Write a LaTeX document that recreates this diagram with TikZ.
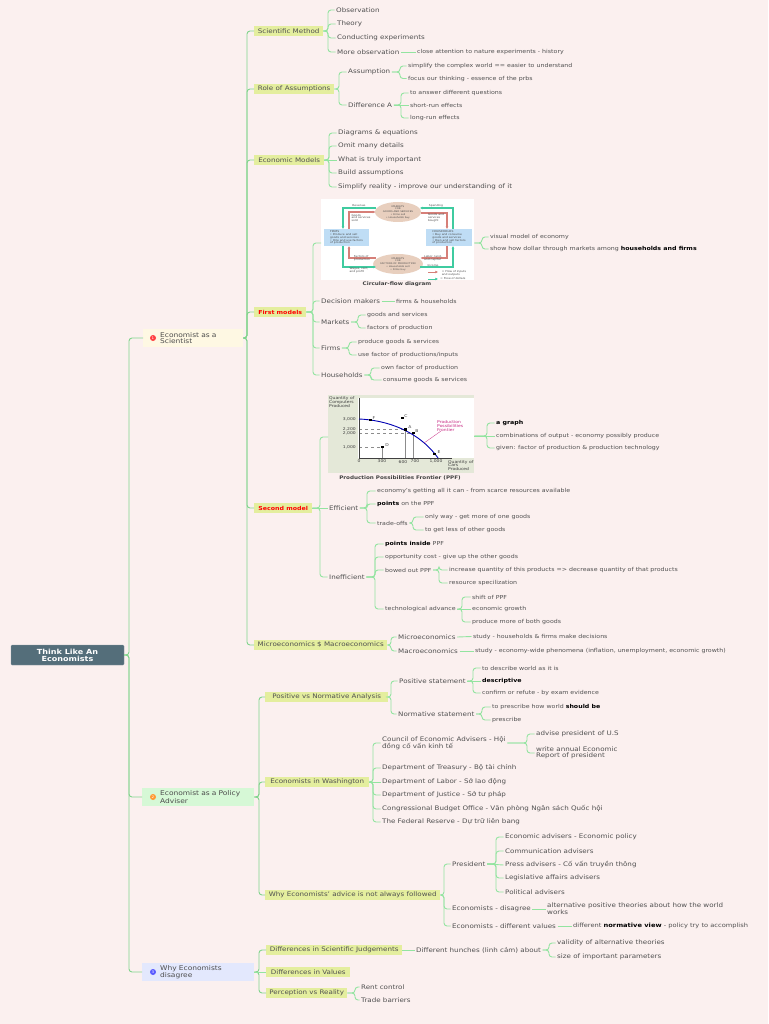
\documentclass[tikz,border=0pt]{standalone}
\usepackage{fontspec}
\setmainfont[FakeStretch=1.15]{DejaVu Sans}
\usetikzlibrary{arrows.meta,shapes.geometric}
\definecolor{bgc}{HTML}{FBF0EF}
\definecolor{linec}{HTML}{93E4A0}
\definecolor{trunkc}{HTML}{80D48C}
\definecolor{boxc}{HTML}{E4EE9E}
\definecolor{inkc}{HTML}{505050}
\definecolor{rootc}{HTML}{546E7A}
\definecolor{flowgreen}{HTML}{3FCBA0}
\definecolor{flowred}{HTML}{D67F78}
\definecolor{ellc}{HTML}{E8CFBE}
\definecolor{firmc}{HTML}{BFDDF5}
\definecolor{ppfb}{HTML}{E4E8D8}
\definecolor{topa}{HTML}{FEF8E3}
\definecolor{topb}{HTML}{D6F8D6}
\definecolor{topc}{HTML}{E3E8FD}
\tikzset{
  conn/.style={draw=linec,line width=0.9pt,rounded corners=3pt},
  trunk/.style={draw=trunkc,line width=0.9pt,rounded corners=3pt},
  txtbig/.style={anchor=west,inner xsep=1.5pt,inner ysep=0.5pt,xshift=-1.5pt,text=inkc,align=left,font=\fontsize{6.2}{6}\selectfont},
  txtsm/.style={txtbig,font=\fontsize{5.45}{6}\selectfont},
  txtmd/.style={txtbig,font=\fontsize{5.8}{6}\selectfont},
  boxn/.style={anchor=west,fill=boxc,inner xsep=0pt,inner ysep=0pt,minimum height=10pt,text=inkc,align=center,font=\fontsize{6.2}{6}\selectfont},
  boxred/.style={font=\bfseries\fontsize{5.45}{6}\selectfont,text=red},
  topic/.style={anchor=west,inner sep=0pt,minimum height=18pt,text=black!70,align=left,font=\fontsize{6.5}{6}\selectfont},
  badge/.style={circle,inner sep=0pt,minimum size=6pt,text=white,font=\fontsize{3.5}{4}\selectfont},
  capt/.style={text=black!75,font=\bfseries\fontsize{4.9}{5}\selectfont,inner sep=0pt},
  tiny/.style={inner sep=0pt,text=black!70,align=left,font=\fontsize{2.6}{2.9}\selectfont},
  ppft/.style={inner sep=0pt,text=black!75,align=left,font=\fontsize{3.9}{3.9}\selectfont},
  flowa/.style={line width=1.05pt,-{Latex[length=2.6pt,width=2.8pt]}},
  gflow/.style={flowa,draw=flowgreen,color=flowgreen},
  rflow/.style={flowa,draw=flowred,color=flowred},
  pt/.style={fill=black,inner sep=0pt,minimum width=3pt,minimum height=2.4pt},
  guide/.style={draw=black!45,line width=0.25pt}
}
\newcommand{\Tb}[4]{\node[txtbig] (#1) at (#2,#3) {#4};}
\newcommand{\Ts}[4]{\node[txtsm] (#1) at (#2,#3) {#4};}
\newcommand{\Tm}[4]{\node[txtmd] (#1) at (#2,#3) {#4};}
\newcommand{\Bx}[5]{\node[boxn,minimum width=#4pt] (#1) at (#2,#3) {#5};}
\newcommand{\lk}[3]{\draw[conn] (#1.east) -- (#3,0 |- #1.east) -- (#3,0 |- #2.west) -- (#2.west);}
\newcommand{\tk}[3]{\draw[trunk] (#1.east) -- (#3,0 |- #1.east) -- (#3,0 |- #2.west) -- (#2.west);}
\newcommand{\st}[2]{\draw[conn] (#1.east) -- (#2.west);}
\newcommand{\bd}[1]{{\bfseries\color{black}#1}}
\begin{document}
\begin{tikzpicture}[x=1pt,y=-1pt]
\useasboundingbox[fill=bgc] (0,0) rectangle (768,1024);
% root and topics
\node[fill=rootc,draw=rootc!70!white,line width=0.3pt,rounded corners=1pt,minimum width=113pt,minimum height=20pt,inner sep=0pt,text=white,align=center,font=\bfseries\fontsize{7}{7}\selectfont] (root) at (67.5,655) {Think Like An\\Economists};
\node[topic,fill=topa,minimum width=100pt,text width=100pt] (A) at (143,338) {\hspace*{17pt}Economist as a\\\hspace*{17pt}Scientist};
\node[topic,fill=topb,minimum width=112pt,text width=112pt] (B) at (142,797) {\hspace*{18pt}Economist as a Policy\\\hspace*{18pt}Adviser};
\node[topic,fill=topc,minimum width=112pt,text width=112pt] (C) at (142,972) {\hspace*{18pt}Why Economists\\\hspace*{18pt}disagree};
\node[badge,fill=red!75!white] (ba) at (153,338) {1};
\node[badge,fill=orange!80!white] (bb) at (153,797) {2};
\node[badge,fill=blue!65!white] (bc) at (153,972) {3};
\tk{root}{A}{129}\tk{root}{B}{129}\tk{root}{C}{129}
% branch boxes
\Bx{sm}{254}{31}{69}{Scientific Method}
\Bx{ra}{254}{89}{80}{Role of Assumptions}
\Bx{em}{254}{160}{70}{Economic Models}
\node[boxn,boxred,minimum width=52pt] (fm) at (254,312) {First models};
\node[boxn,boxred,minimum width=58pt] (sd) at (254,508) {Second model};
\Bx{mm}{254}{645}{133}{Microeconomics \$ Macroeconomics}
\foreach \c in {sm,ra,em,fm,sd,mm}{\tk{A}{\c}{247}}
% scientific method
\Tb{s1}{336}{10}{Observation}\Tb{s2}{337}{24}{Theory}\Tb{s3}{337}{38}{Conducting experiments}\Tb{s4}{337}{52}{More observation}
\foreach \c in {s1,s2,s3,s4}{\lk{sm}{\c}{328}}
\Ts{s5}{417}{52}{close attention to nature experiments - history}
\draw[conn] (s4.east) -- (s5.west);
% assumptions
\Tb{r1}{348}{72}{Assumption}\Tb{r2}{348}{105}{Difference A}
\foreach \c in {r1,r2}{\lk{ra}{\c}{339}}
\Ts{r3}{408}{66}{simplify the complex world == easier to understand}\Ts{r4}{408}{78.5}{focus our thinking - essence of the prbs}
\foreach \c in {r3,r4}{\lk{r1}{\c}{400}}
\Ts{r5}{410}{93}{to answer different questions}\Ts{r6}{410}{105}{short-run effects}\Ts{r7}{410}{118}{long-run effects}
\foreach \c in {r5,r7}{\lk{r2}{\c}{401}}
\st{r2}{r6}
% economic models
\Tb{e1}{338}{133}{Diagrams \& equations}\Tb{e2}{338}{146}{Omit many details}\Tb{e3}{338}{160}{What is truly important}\Tb{e4}{338}{173}{Build assumptions}\Tb{e5}{338}{187}{Simplify reality - improve our understanding of it}
\foreach \c in {e1,e2,e4,e5}{\lk{em}{\c}{329}}
\st{em}{e3}
% first model: circular-flow figure
\node[fill=white,inner sep=0pt,minimum width=153pt,minimum height=81pt,anchor=north west] (cf) at (321,199) {};
\node[fill=ellc,ellipse,inner sep=0pt,minimum width=46pt,minimum height=20pt,text=black!70,align=center,font=\fontsize{2.3}{2.7}\selectfont] (mg) at (398,212) {MARKETS\\FOR\\GOODS AND SERVICES\\• Firms sell\\• Households buy};
\node[fill=ellc,ellipse,inner sep=0pt,minimum width=46pt,minimum height=20pt,text=black!70,align=center,font=\fontsize{2.3}{2.7}\selectfont] (mf) at (398,264) {MARKETS\\FOR\\FACTORS OF PRODUCTION\\• Households sell\\• Firms buy};
\node[fill=firmc,inner sep=0pt,minimum width=45pt,minimum height=17pt,text=black!70,align=left,font=\fontsize{2.6}{2.9}\selectfont] (fi) at (346.5,237.5) {FIRMS\\• Produce and sell\\goods and services\\• Hire and use factors\\of production};
\node[fill=firmc,inner sep=0pt,minimum width=46pt,minimum height=17pt,text=black!70,align=left,font=\fontsize{2.6}{2.9}\selectfont] (ho) at (449,237.5) {HOUSEHOLDS\\• Buy and consume\\goods and services\\• Own and sell factors\\of production};
\draw[gflow] (376,208) -- (343,208) -- (343,229);
\draw[rflow] (349,229) -- (349,212) -- (375.5,212);
\draw[gflow] (453,229) -- (453,208) -- (420,208);
\draw[rflow] (420.5,213) -- (447,213) -- (447,229);
\draw[gflow] (343,246) -- (343,267) -- (376,267);
\draw[rflow] (375.5,258) -- (349,258) -- (349,246);
\draw[gflow] (420,267) -- (453,267) -- (453,246);
\draw[rflow] (447,246) -- (447,258) -- (420.5,258);
\node[tiny] (c1) at (359,206) {Revenue};
\node[tiny] (c2) at (436,206) {Spending};
\node[tiny] (c3) at (361,218) {Goods\\and services\\sold};
\node[tiny] (c4) at (436,218) {Goods and\\services\\bought};
\node[tiny] (c5) at (362,258.5) {Factors of\\production};
\node[tiny] (c6) at (433,258) {Labor, land,\\and capital};
\node[tiny] (c7) at (359,270) {Wages, rent,\\and profit};
\node[tiny] (c8) at (433,265.5) {Income};
\draw[rflow,line width=0.6pt] (428,272) -- (438,272);
\draw[gflow,line width=0.6pt] (428,279) -- (438,279);
\node[tiny] (c9) at (454,273) {= Flow of inputs\\and outputs};
\node[tiny] (c10) at (453,279) {= Flow of dollars};
\node[capt] (c11) at (397,284.5) {Circular-flow diagram};
\draw[conn] (fm.east) -- (313,0 |- fm.east) -- (313,243) -- (cf.west |- 0,243);
\Tb{f1}{321}{301}{Decision makers}\Tb{f2}{321}{322}{Markets}\Tb{f3}{321}{348}{Firms}\Tb{f4}{321}{375}{Households}
\foreach \c in {f1,f2,f3,f4}{\lk{fm}{\c}{313}}
\Ts{f5}{396}{301}{firms \& households}\st{f1}{f5}
\Ts{f6}{367}{315}{goods and services}\Ts{f7}{367}{328}{factors of production}
\foreach \c in {f6,f7}{\lk{f2}{\c}{358}}
\Ts{f8}{358}{342}{produce goods \& services}\Ts{f9}{358}{355}{use factor of productions/inputs}
\foreach \c in {f8,f9}{\lk{f3}{\c}{349}}
\Ts{f10}{381}{368}{own factor of production}\Ts{f11}{383}{380}{consume goods \& services}
\foreach \c in {f10,f11}{\lk{f4}{\c}{371}}
\Ts{f12}{490}{237}{visual model of economy}\Ts{f13}{490}{249}{show how dollar through markets among \bd{households and firms}}
\draw[conn] (cf.east |- 0,243) -- (482,243) -- (482,0 |- f12.west) -- (f12.west);
\draw[conn] (cf.east |- 0,243) -- (482,243) -- (482,0 |- f13.west) -- (f13.west);
% second model: PPF figure
\node[fill=ppfb,inner sep=0pt,minimum width=146pt,minimum height=78pt,anchor=north west] (pb) at (328,395) {};
\node[fill=white,inner sep=0pt,minimum width=116pt,minimum height=60pt,anchor=north west] (pw) at (358,398) {};
\draw[guide,dashed] (359,447) -- (382,447);\draw[guide] (382,447) -- (382,458);
\draw[guide,dashed] (359,429.5) -- (405,429.5);\draw[guide] (405,429.5) -- (405,458);
\draw[guide,dashed] (359,433) -- (413,433);\draw[guide] (413,433) -- (413,458);
\draw[black!75,line width=0.5pt] (359,398) -- (359,458) -- (452,458);
\draw[blue!70!black,line width=0.9pt] (359,419) .. controls (385,420) and (418,430) .. (438,458);
\draw[magenta!80!black,line width=0.3pt] (424,443) -- (441,431);
\node[pt] (pF) at (370,420) {};\node[pt] (pC) at (402,418) {};\node[pt] (pA) at (405,429.5) {};\node[pt] (pB) at (413,433) {};\node[pt] (pD) at (382,447) {};\node[pt] (pE) at (434,454) {};
\node[ppft] (lF) at (374,418.5) {F};\node[ppft] (lC) at (406,416) {C};\node[ppft] (lA) at (410,427) {A};\node[ppft] (lB) at (417,431) {B};\node[ppft] (lD) at (387,445) {D};\node[ppft] (lE) at (439,452) {E};
\node[ppft,anchor=west] (y0) at (329,402) {Quantity of\\Computers\\Produced};
\node[ppft,anchor=east] (y1) at (356,419) {3,000};\node[ppft,anchor=east] (y2) at (356,429) {2,200};\node[ppft,anchor=east] (y3) at (356,433) {2,000};\node[ppft,anchor=east] (y4) at (356,447) {1,000};
\node[ppft] (x0) at (359,461.5) {0};\node[ppft] (x1) at (382,461.5) {300};\node[ppft] (x2) at (403,462) {600};\node[ppft] (x3) at (415,461.5) {700};\node[ppft] (x4) at (436,461.5) {1,000};
\node[ppft,anchor=west] (x5) at (448,465.5) {Quantity of\\Cars\\Produced};
\node[ppft,anchor=west,text=magenta!80!black] (lp) at (437,426) {Production\\Possibilities\\Frontier};
\node[capt] (p1) at (400,478) {Production Possibilities Frontier (PPF)};
\draw[conn] (sd.east) -- (320,0 |- sd.east) -- (320,437) -- (pb.west |- 0,437);
\Tb{d1}{329}{508}{Efficient}\Tb{d2}{329}{577}{Inefficient}
\st{sd}{d1}\lk{sd}{d2}{320}
\Ts{g1}{496}{423}{\bd{a graph}}\Ts{g2}{496}{436}{combinations of output - economy possibly produce}\Ts{g3}{496}{448}{given: factor of production \& production technology}
\draw[conn] (pb.east |- 0,436) -- (487,436) -- (487,0 |- g1.west) -- (g1.west);
\draw[conn] (pb.east |- 0,436) -- (g2.west);
\draw[conn] (pb.east |- 0,436) -- (487,436) -- (487,0 |- g3.west) -- (g3.west);
\Ts{h1}{377}{491}{economy's getting all it can - from scarce resources available}\Ts{h2}{377}{504}{\bd{points} on the PPF}\Ts{h3}{377}{523}{trade-offs}
\foreach \c in {h1,h2,h3}{\lk{d1}{\c}{367}}
\Ts{h4}{425}{517}{only way - get more of one goods}\Ts{h5}{425}{530}{to get less of other goods}
\foreach \c in {h4,h5}{\lk{h3}{\c}{413}}
\Ts{i1}{385}{544}{\bd{points inside} PPF}\Ts{i2}{385}{557}{opportunity cost - give up the other goods}\Ts{i3}{385}{570}{bowed out PPF}\Ts{i4}{385}{609}{technological advance}
\foreach \c in {i1,i2,i3,i4}{\lk{d2}{\c}{375}}
\Ts{i5}{449}{570}{increase quantity of this products => decrease quantity of that products}\Ts{i6}{449}{583}{resource specilization}
\foreach \c in {i5,i6}{\lk{i3}{\c}{439}}
\Ts{i7}{472}{597}{shift of PPF}\Ts{i8}{472}{609}{economic growth}\Ts{i9}{472}{622}{produce more of both goods}
\foreach \c in {i7,i9}{\lk{i4}{\c}{462}}
\st{i4}{i8}
% micro and macro
\Tb{m1}{398}{637}{Microeconomics}\Tb{m2}{398}{651}{Macroeconomics}
\foreach \c in {m1,m2}{\lk{mm}{\c}{391}}
\Ts{m3}{473}{636.5}{study - households \& firms make decisions}\Ts{m4}{475}{651}{study - economy-wide phenomena (inflation, unemployment, economic growth)}
\st{m1}{m3}\st{m2}{m4}
% policy adviser
\Bx{p2}{265}{697}{123}{Positive vs Normative Analysis}
\Bx{p3}{265}{782}{104}{Economists in Washington}
\Bx{p4}{265}{895}{175}{Why Economists' advice is not always followed}
\foreach \c in {p2,p3,p4}{\tk{B}{\c}{259}}
\Tb{n1}{399}{681}{Positive statement}\Tb{n2}{398}{714}{Normative statement}
\foreach \c in {n1,n2}{\lk{p2}{\c}{391}}
\Ts{n3}{482}{668}{to describe world as it is}\Ts{n4}{482}{681}{\bd{descriptive}}\Ts{n5}{482}{693}{confirm or refute - by exam evidence}
\foreach \c in {n3,n5}{\lk{n1}{\c}{473}}
\st{n1}{n4}
\Ts{n6}{492}{707}{to prescribe how world \bd{should be}}\Ts{n7}{492}{720}{prescribe}
\foreach \c in {n6,n7}{\lk{n2}{\c}{482}}
\Tb{w1}{382}{743}{Council of Economic Advisers - Hội\\đồng cố vấn kinh tế}\Tb{w2}{382}{768}{Department of Treasury - Bộ tài chính}\Tb{w3}{382}{782}{Department of Labor - Sở lao động}\Tb{w4}{382}{795}{Department of Justice - Sở tư pháp}\Tb{w5}{382}{809}{Congressional Budget Office - Văn phòng Ngân sách Quốc hội}\Tb{w6}{382}{822}{The Federal Reserve - Dự trữ liên bang}
\foreach \c in {w1,w2,w4,w5,w6}{\lk{p3}{\c}{373}}
\st{p3}{w3}
\Tb{w7}{536}{734}{advise president of U.S}\Tb{w8}{536}{753}{write annual Economic\\Report of president}
\foreach \c in {w7,w8}{\lk{w1}{\c}{527}}
\Tb{y5}{452}{864}{President}\Tb{y6}{452}{909}{Economists - disagree}\Tb{y7}{452}{926}{Economists - different values}
\foreach \c in {y5,y6,y7}{\lk{p4}{\c}{444}}
\Tb{z1}{505}{837}{Economic advisers - Economic policy}\Tb{z2}{505}{851}{Communication advisers}\Tb{z3}{505}{865}{Press advisers - Cố vấn truyền thông}\Tb{z4}{505}{878}{Legislative affairs advisers}\Tb{z5}{505}{892}{Political advisers}
\foreach \c in {z1,z2,z4,z5}{\lk{y5}{\c}{496}}
\st{y5}{z3}
\Tb{z6}{547}{909}{alternative positive theories about how the world\\works}\st{y6}{z6}
\Tm{z7}{573}{926}{different \bd{normative view} - policy try to accomplish}\st{y7}{z7}
% disagree
\Bx{q1}{266}{950}{136}{Differences in Scientific Judgements}
\Bx{q2}{266}{972}{84}{Differences in Values}
\Bx{q3}{266}{993}{81}{Perception vs Reality}
\foreach \c in {q1,q3}{\tk{C}{\c}{259}}
\st{C}{q2}
\Tb{q4}{416}{950}{Different hunches (linh cảm) about}\st{q1}{q4}
\Tb{q5}{557}{943}{validity of alternative theories}\Tb{q6}{557}{957}{size of important parameters}
\foreach \c in {q5,q6}{\lk{q4}{\c}{549}}
\Tb{q7}{361}{987}{Rent control}\Tb{q8}{361}{1000}{Trade barriers}
\foreach \c in {q7,q8}{\lk{q3}{\c}{355}}
\end{tikzpicture}
\end{document}
